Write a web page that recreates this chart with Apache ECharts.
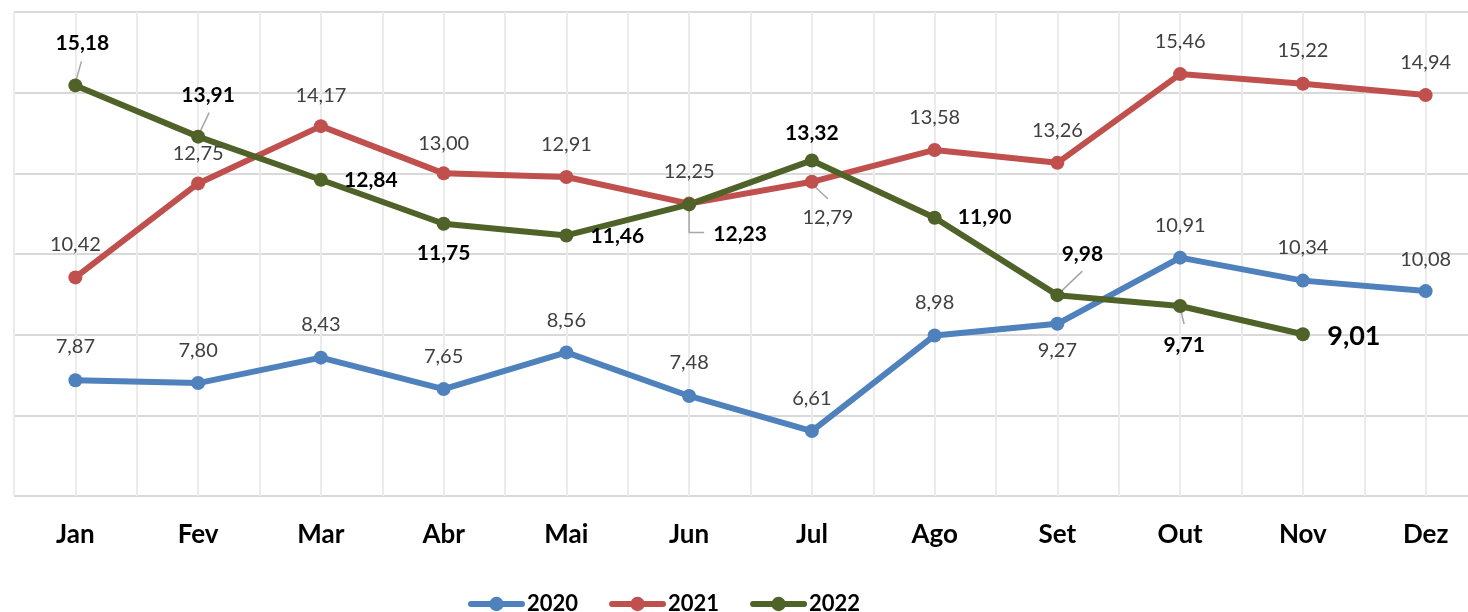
<!DOCTYPE html>
<html><head><meta charset="utf-8">
<script src="https://cdn.jsdelivr.net/npm/echarts@6/dist/echarts.min.js"></script>
<style>html,body{margin:0;padding:0;background:#fff;overflow:hidden;width:1468px;height:612px}#chart{width:1490px;height:612px}</style>
</head><body><div id="chart"></div>
<script>
// ---- data ----
const months = ['Jan','Fev','Mar','Abr','Mai','Jun','Jul','Ago','Set','Out','Nov','Dez'];
const seriesNames = ['2020','2021','2022'];
const values2020 = [7.87,7.80,8.43,7.65,8.56,7.48,6.61,8.98,9.27,10.91,10.34,10.08];
const values2021 = [10.42,12.75,14.17,13.00,12.91,12.25,12.79,13.58,13.26,15.46,15.22,14.94];
const values2022 = [15.18,13.91,12.84,11.75,11.46,12.23,13.32,11.90,9.98,9.71,9.01,null];
const yMin = 5, yMax = 17, yStep = 2;

// ---- label placement (style, not data): offset of label centre from its point ----
const off2020 = [[0,-34],[0,-33],[0,-33],[0,-33],[0,-32],[0,-33],[0,-33],[0,-33],[0,27],[0,-32],[0,-33],[0,-32]];
const off2021 = [[0,-33],[0,-30],[0,-31],[0,-30],[0,-32],[0,-32],[16,36],[0,-32],[0,-32],[0,-33],[0,-33],[0,-33]];
const off2022 = [[7,-42],[10,-41],[50,0],[0,29],[51,1],[51,30],[0,-27],[50,0],[25,-41],[4,39],[51,2],null];
const bigLabel2022 = 10; // last value shown larger

// leader lines: [seriesIndex, dataIndex, polyline relative to the point, in px]
const leaders = [
  [2, 0, [[1,-6],[6,-24]]],
  [2, 1, [[2,-5],[11,-24]]],
  [2, 5, [[0,6],[0,28],[15,28]]],
  [1, 6, [[3,5],[16,17]]],
  [2, 8, [[4,-4],[25,-24]]],
  [2, 9, [[1,6],[4,18]]]
];

const colors = ['#4F81BD','#C0504D','#4F6228'];
const fmt = v => v.toFixed(2).replace('.', ',');

function buildData(vals, offs, big) {
  return vals.map((v, i) => {
    if (v == null) return '-';
    const item = { value: v, label: { offset: offs[i] } };
    if (i === big) item.label.fontSize = 27;
    return item;
  });
}

function makeSeries(name, vals, offs, color, bold, big) {
  return {
    name: name, type: 'line', xAxisIndex: 0, yAxisIndex: 0,
    data: buildData(vals, offs, big),
    symbol: 'circle', symbolSize: 14,
    lineStyle: { width: 6, color: color, join: 'round', cap: 'round' },
    itemStyle: { color: color },
    label: {
      show: true, position: 'inside',
      formatter: p => fmt(p.value),
      fontFamily: 'Lato', fontSize: bold ? 21 : 20,
      fontWeight: bold ? 'bold' : 'normal',
      color: bold ? '#000000' : '#404040',
      textBorderWidth: 0
    },
    emphasis: { disabled: true }
  };
}

const chart = echarts.init(document.getElementById('chart'), null, { renderer: 'canvas' });
chart.setOption({
  animation: false,
  backgroundColor: '#ffffff',
  grid: { left: 14, top: 12, right: 3, bottom: 116, containLabel: false },
  xAxis: [
    {
      type: 'category', data: months, boundaryGap: true,
      axisLine: { show: false }, axisTick: { show: false },
      splitLine: { show: false },
      axisLabel: { fontFamily: 'Lato', fontSize: 26, fontWeight: 'bold', color: '#000', margin: 26 }
    },
    {
      type: 'value', min: 0, max: months.length * 2, interval: 1, position: 'bottom',
      axisLine: { show: false }, axisTick: { show: false }, axisLabel: { show: false },
      splitLine: { show: true, lineStyle: { color: '#EBEBEB', width: 2 } }
    }
  ],
  yAxis: {
    type: 'value', min: yMin, max: yMax, interval: yStep,
    axisLine: { show: false }, axisTick: { show: false }, axisLabel: { show: false },
    splitLine: { show: true, lineStyle: { color: '#D9D9D9', width: 2 } }
  },
  legend: {
    data: seriesNames, left: 468, top: 593, padding: 0,
    itemWidth: 51, itemHeight: 18, itemGap: 31,
    lineStyle: { width: 6, cap: 'round' },
    textStyle: { fontFamily: 'Lato', fontSize: 22, fontWeight: 'bold', color: '#000' }
  },
  series: [
    makeSeries(seriesNames[0], values2020, off2020, colors[0], false, -1),
    makeSeries(seriesNames[1], values2021, off2021, colors[1], false, -1),
    makeSeries(seriesNames[2], values2022, off2022, colors[2], true, bigLabel2022)
  ]
});

// leader lines positioned from the library's own coordinate conversion
const allValues = [values2020, values2021, values2022];
const graphics = leaders.map(([s, i, rel]) => {
  const p = chart.convertToPixel({ xAxisIndex: 0, yAxisIndex: 0 }, [i, allValues[s][i]]);
  return {
    type: 'polyline', z: 1, silent: true,
    shape: { points: rel.map(r => [p[0] + r[0], p[1] + r[1]]) },
    style: { stroke: '#A6A6A6', lineWidth: 1.5, fill: null }
  };
});
chart.setOption({ graphic: graphics });
</script></body></html>
